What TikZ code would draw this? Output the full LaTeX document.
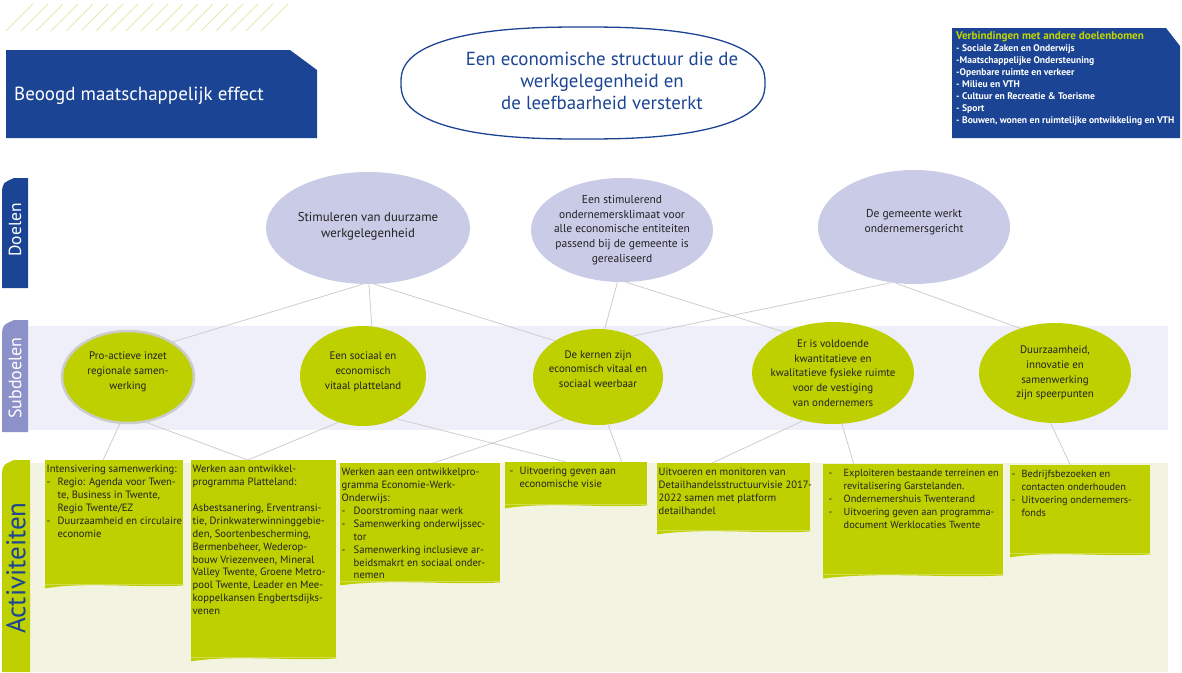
\documentclass[tikz,border=0pt]{standalone}
\usepackage{fontspec}
\setmainfont{PT Sans}
\usepackage{tikz}
\usetikzlibrary{shapes,positioning,calc}

\definecolor{efblue}{HTML}{1B4594}
\definecolor{doellila}{HTML}{C9CBE7}
\definecolor{sublila}{HTML}{8D91C9}
\definecolor{subband}{HTML}{EEEFF8}
\definecolor{actgreen}{HTML}{BED000}
\definecolor{actband}{HTML}{F2F4E1}
\definecolor{linkgray}{HTML}{CDCDCD}
\definecolor{stripecol}{HTML}{E9E7B4}
\definecolor{txtdark}{HTML}{222222}
\definecolor{titlegreen}{HTML}{C2D500}

\newcommand{\dsh}[1][11pt]{\makebox[#1][l]{-}}
\newcommand{\ind}[1][11pt]{\hspace*{#1}}

\tikzset{
    doel/.style={ellipse, fill=doellila, inner sep=0pt},
    doeltxt/.style={align=center, inner sep=0pt, text=txtdark,
        font=\fontsize{11.5}{14.8}\selectfont},
    subdoel/.style={ellipse, fill=actgreen, inner sep=0pt},
    subtxt/.style={align=center, inner sep=0pt, text=txtdark,
        font=\fontsize{10.9}{14.8}\selectfont},
    actbox/.style={rectangle, fill=actgreen, inner sep=0pt, anchor=north west},
    acttxt/.style={align=left, anchor=north west, inner xsep=1.5pt, inner ysep=5pt,
        text=txtdark, font=\fontsize{10.6}{12.9}\selectfont},
    tabtxt/.style={rotate=90, inner sep=0pt},
    link/.style={draw=linkgray, line width=0.8pt},
    stripe/.style={draw=stripecol, line width=0.8pt},
}

\begin{document}
\begin{tikzpicture}[x=1pt, y=-1pt]

    \useasboundingbox (0,0) rectangle (1182,672);

    % --- hatching top left ---
    \foreach \i in {0,...,17}
        \draw[stripe] ({6+15*\i},31) -- ++(27,-27);

    % --- header boxes ---
    \fill[efblue] (6,50) -- (290,50) -- (317,70) -- (317,138) -- (6,138) -- cycle;
    \node[anchor=west, inner sep=0pt, text=white, font=\fontsize{19}{21}\selectfont]
        (beoogd) at (14,96) {Beoogd maatschappelijk effect};

    % slightly boxy oval round the effect
    \draw[efblue, line width=1.3pt] plot[domain=2.5:357.5, samples=72, smooth cycle, variable=\t]
        ({583+182*sign(cos(\t))*abs(cos(\t))^0.8}, {83+56*sign(sin(\t))*abs(sin(\t))^0.8});
    \node[align=center, inner sep=0pt, text=efblue, font=\fontsize{18.9}{21.8}\selectfont]
        (effect) at (602,81) {Een economische structuur die de\\werkgelegenheid en\\de leefbaarheid versterkt};

    \fill[efblue] (952,28) -- (1166,28) -- (1180,46) -- (1180,138) -- (952,138) -- cycle;
    \node[anchor=north west, align=left, inner sep=0pt, text=white,
          font=\fontsize{9.6}{12.1}\selectfont\bfseries]
        (verbind) at (956,31) {{\color{titlegreen}\fontsize{11.1}{12.1}\selectfont Verbindingen met andere doelenbomen}\\
        - Sociale Zaken en Onderwijs\\
        -Maatschappelijke Ondersteuning\\
        -Openbare ruimte en verkeer\\
        - Milieu en VTH\\
        - Cultuur en Recreatie \& Toerisme\\
        - Sport\\
        - Bouwen, wonen en ruimtelijke ontwikkeling en VTH};

    % --- bands + tabs ---
    \fill[subband] (28,326) rectangle (1168,430);
    \fill[actband] (30,463) rectangle (1168,672);

    \fill[efblue] (2,288) -- (2,191) .. controls (3,183) .. (14,178) -- (28,178) -- (28,288) -- cycle;
    \fill[sublila] (2,432) -- (2,333) .. controls (3,325) .. (14,320) -- (28,320) -- (28,432) -- cycle;
    \fill[actgreen] (2,672) -- (2,473) .. controls (3,465) .. (14,460) -- (30,460) -- (30,672) -- cycle;

    \node[tabtxt, text=white, font=\fontsize{17.5}{17.5}\selectfont] (tdoel) at (15,230) {Doelen};
    \node[tabtxt, text=white, font=\fontsize{18}{18}\selectfont] (tsub) at (15,378) {Subdoelen};
    \node[tabtxt, text=efblue, font=\fontsize{27}{27}\selectfont] (tact) at (16,568) {Activiteiten};

    % --- doelen ---
    \node[doel, minimum width=204, minimum height=112,
          label={[doeltxt, yshift=2pt, font=\fontsize{12.8}{16}\selectfont]center:{Stimuleren van duurzame\\werkgelegenheid}}]
        (d1) at (368,228) {};
    \node[doel, minimum width=182, minimum height=104,
          label={[doeltxt]center:{Een stimulerend\\ondernemersklimaat voor\\alle economische entiteiten\\passend bij de gemeente is\\gerealiseerd}}]
        (d2) at (622,230) {};
    \node[doel, minimum width=192, minimum height=114,
          label={[doeltxt, yshift=5pt]center:{De gemeente werkt\\ondernemersgericht}}]
        (d3) at (914,227) {};

    % --- subdoelen ---
    \node[subdoel, draw=gray!40, line width=2.5pt, minimum width=132, minimum height=92,
          label={[subtxt, yshift=5pt]center:{Pro-actieve inzet\\regionale samen-\\werking}}]
        (s1) at (128,377) {};
    \node[subdoel, minimum width=126, minimum height=100,
          label={[subtxt, yshift=4pt]center:{Een sociaal en\\economisch\\vitaal platteland}}]
        (s2) at (363,376) {};
    \node[subdoel, minimum width=130, minimum height=96,
          label={[subtxt, yshift=8pt]center:{De kernen zijn\\economisch vitaal en\\sociaal weerbaar}}]
        (s3) at (598,377) {};
    \node[subdoel, minimum width=162, minimum height=102,
          label={[subtxt]center:{Er is voldoende\\kwantitatieve en\\kwalitatieve fysieke ruimte\\voor de vestiging\\van ondernemers}}]
        (s4) at (833,373) {};
    \node[subdoel, minimum width=152, minimum height=100,
          label={[subtxt]center:{Duurzaamheid,\\innovatie en\\samenwerking\\zijn speerpunten}}]
        (s5) at (1055,373) {};

    % --- activiteiten ---
    \node[actbox, minimum width=138, minimum height=124,
          label={[acttxt]north west:{Intensivering samenwerking:\\
            \dsh Regio: Agenda voor Twen-\\
            \ind te, Business in Twente,\\
            \ind Regio Twente/EZ\\
            \dsh Duurzaamheid en circulaire\\
            \ind economie}}]
        (b1) at (45,460) {};
    \node[actbox, minimum width=145, minimum height=197,
          label={[acttxt]north west:{Werken aan ontwikkel-\\
            programma Platteland:\\[12.9pt]
            Asbestsanering, Erventransi-\\
            tie, Drinkwaterwinninggebie-\\
            den, Soortenbescherming,\\
            Bermenbeheer, Wederop-\\
            bouw Vriezenveen, Mineral\\
            Valley Twente, Groene Metro-\\
            pool Twente, Leader en Mee-\\
            koppelkansen Engbertsdijks-\\
            venen}}]
        (b2) at (191,460) {};
    \node[actbox, minimum width=160, minimum height=118,
          label={[acttxt]north west:{Werken aan een ontwikkelpro-\\
            gramma Economie-Werk-\\
            Onderwijs:\\
            \dsh[12pt]Doorstroming naar werk\\
            \dsh[12pt]Samenwerking onderwijssec-\\
            \ind[12pt]tor\\
            \dsh[12pt]Samenwerking inclusieve ar-\\
            \ind[12pt]beidsmakrt en sociaal onder-\\
            \ind[12pt]nemen}}]
        (b3) at (340,463) {};
    \node[actbox, minimum width=142, minimum height=42,
          label={[acttxt]north west:{\ind[3pt]\dsh[10pt]Uitvoering geven aan\\
            \ind[13pt]economische visie}}]
        (b4) at (505,462) {};
    \node[actbox, minimum width=153, minimum height=67,
          label={[acttxt]north west:{Uitvoeren en monitoren van\\
            Detailhandelsstructuurvisie 2017-\\
            2022 samen met platform\\
            detailhandel}}]
        (b5) at (657,463) {};
    \node[actbox, minimum width=180, minimum height=110,
          label={[acttxt, font=\fontsize{10.3}{12.9}\selectfont]north west:{\ind[4pt]\dsh[15pt]Exploiteren bestaande terreinen en\\
            \ind[19pt]revitalisering Garstelanden.\\
            \ind[4pt]\dsh[15pt]Ondernemershuis Twenterand\\
            \ind[4pt]\dsh[15pt]Uitvoering geven aan programma-\\
            \ind[19pt]document Werklocaties Twente}}]
        (b6) at (823,464) {};
    \node[actbox, minimum width=140, minimum height=88,
          label={[acttxt, font=\fontsize{10.3}{12.9}\selectfont]north west:{\dsh[10pt]Bedrijfsbezoeken en\\
            \ind[10pt]contacten onderhouden\\
            \dsh[10pt]Uitvoering ondernemers-\\
            \ind[10pt]fonds}}]
        (b7) at (1010,465) {};

    % wavy bottoms
    \foreach \bx in {b1,b2,b3,b4,b5,b6,b7}
        \fill[actgreen] (\bx.south west) -- ($(\bx.south west)+(0,4)$)
            .. controls ($(\bx.south)+(-30,-3)$) and ($(\bx.south)+(30,4)$) ..
            ($(\bx.south east)+(0,1)$) -- (\bx.south east) -- cycle;

    % --- links doelen -> subdoelen ---
    \draw[link] (d1.-95) -- (s1.38);
    \draw[link] (d1.-89) -- (s2.80);
    \draw[link] (d1.-84) -- (s3.140);
    \draw[link] (d2.-95) -- (s3.82);
    \draw[link] (d2.-86) -- (s4.140);
    \draw[link] (d3.-112) -- (s3.50);
    \draw[link] (d3.-108) -- (s5.128);

    % --- links subdoelen -> activiteiten ---
    \draw[link] (s1.-100) -- ($(b1.north west)!0.42!(b1.north east)$);
    \draw[link] (s1.-68) -- ($(b2.north west)!0.39!(b2.north east)$);
    \draw[link] (s2.-118) -- ($(b2.north west)!0.39!(b2.north east)$);
    \draw[link] (s2.-52) -- ($(b4.north west)!0.43!(b4.north east)$);
    \draw[link] (s3.-128) -- ($(b3.north west)!0.58!(b3.north east)$);
    \draw[link] (s3.-78) -- ($(b4.north west)!0.82!(b4.north east)$);
    \draw[link] (s4.-122) -- ($(b5.north west)!0.36!(b5.north east)$);
    \draw[link] (s4.-80) -- ($(b6.north west)!0.17!(b6.north east)$);
    \draw[link] (s5.-95) -- ($(b7.north west)!0.43!(b7.north east)$);

\end{tikzpicture}
\end{document}
